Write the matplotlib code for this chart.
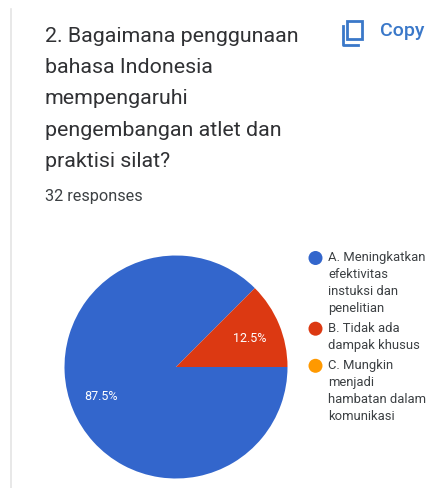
import matplotlib
matplotlib.use('Agg')
import matplotlib.pyplot as plt
from matplotlib.patches import Circle, Rectangle

W, H = 427, 488

title_lines = ['2. Bagaimana penggunaan', 'bahasa Indonesia', 'mempengaruhi',
               'pengembangan atlet dan', 'praktisi silat?']
responses = '32 responses'
values = [87.5, 12.5, 0]
pct_labels = ['87.5%', '12.5%']
colors = ['#3366cc', '#dc3912', '#ff9900']
legend_labels = [
    ['A. Meningkatkan', 'efektivitas', 'instuksi dan', 'penelitian'],
    ['B. Tidak ada', 'dampak khusus'],
    ['C. Mungkin', 'menjadi', 'hambatan dalam', 'komunikasi'],
]

plt.rcParams['font.family'] = ['Roboto', 'DejaVu Sans']

fig = plt.figure(figsize=(W / 100, H / 100), dpi=100, facecolor='white')

# pixel coordinate layer for the text and the icon
bg = fig.add_axes([0, 0, 1, 1])
bg.set_xlim(0, W)
bg.set_ylim(H, 0)
bg.axis('off')

# left card border
bg.plot([11.5, 11.5], [9, H], color='#e4e4e4', linewidth=1.2)

title_y = [42, 73, 104, 135.5, 167]
for line, y in zip(title_lines, title_y):
    bg.text(45, y, line, fontsize=15.4, color='#303134', va='baseline', ha='left')
bg.text(45, 201, responses, fontsize=11.7, color='#3c4043', va='baseline', ha='left')

# copy icon
blue = '#3a78c9'
bg.add_patch(Rectangle((347.5, 21), 15, 17.5, fill=False, edgecolor=blue, linewidth=2))
bg.plot([343, 343, 358], [26, 45, 45], color=blue, linewidth=2)
bg.text(380, 31, 'Copy', fontsize=14, color=blue, va='center', ha='left', fontweight='medium')

# pie
cx, cy, r = 176, 367, 111.5
ax = fig.add_axes([(cx - r) / W, 1 - (cy + r) / H, 2 * r / W, 2 * r / H])
wedges, _ = ax.pie(values, colors=colors, startangle=0, counterclock=False, radius=1)
ax.set_xlim(-1, 1)
ax.set_ylim(-1, 1)
bg.text(101, 397, pct_labels[0], fontsize=9, color='white', ha='center', va='center', zorder=5)
bg.text(250, 338, pct_labels[1], fontsize=9, color='white', ha='center', va='center', zorder=5)
ax.set_zorder(1)
bg.set_zorder(2)
bg.patch.set_visible(False)

# legend
line_h = 16.8
y = 258
for block, color in zip(legend_labels, colors):
    bg.add_patch(Circle((315.5, y), 7, color=color, linewidth=0))
    for i, line in enumerate(block):
        bg.text(328, y + i * line_h, line, fontsize=9.4, color='#3c4043', va='center', ha='left')
    y += len(block) * line_h + 3.5

fig.savefig('out.png', dpi=100)
